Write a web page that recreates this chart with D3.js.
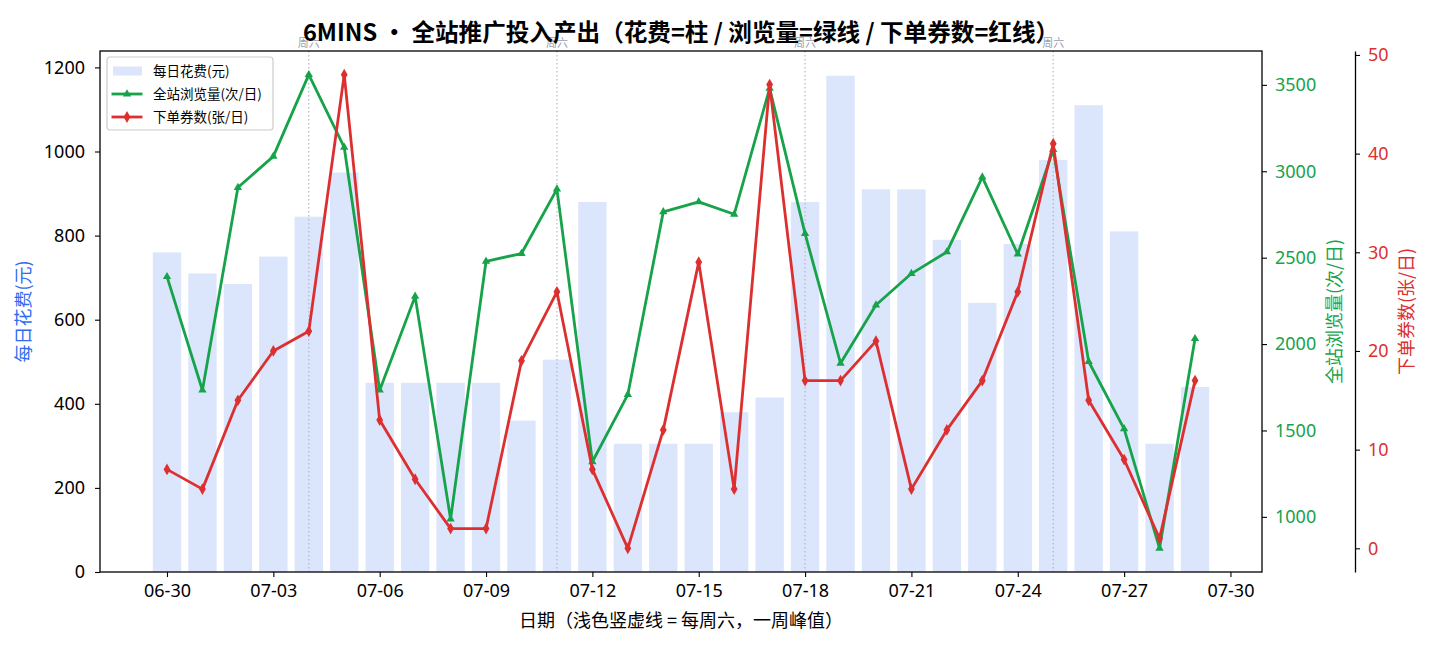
<!DOCTYPE html>
<html>
<head>
<meta charset="utf-8">
<script src="https://cdn.jsdelivr.net/npm/d3@7"></script>
<style>
  body { margin: 0; background: #fff; }
  svg { font-family: "Noto Sans CJK SC", "Noto Sans", sans-serif; }
</style>
</head>
<body>
<svg id="chart" width="1430" height="650"></svg>
<script>
// daily data, 06-30 .. 07-29
const days = ["06-30","07-01","07-02","07-03","07-04","07-05","07-06","07-07","07-08","07-09",
              "07-10","07-11","07-12","07-13","07-14","07-15","07-16","07-17","07-18","07-19",
              "07-20","07-21","07-22","07-23","07-24","07-25","07-26","07-27","07-28","07-29"];
const spend = [760, 710, 685, 750, 845, 950, 450, 450, 450, 450,
               360, 505, 880, 305, 305, 305, 380, 415, 880, 1180,
               910, 910, 790, 640, 780, 980, 1110, 810, 305, 440];
const views = [2390, 1733, 2906, 3086, 3559, 3138, 1733, 2276, 987, 2479,
               2524, 2897, 1319, 1708, 2765, 2823, 2751, 3480, 2639, 1889,
               2226, 2408, 2533, 2966, 2520, 3125, 1899, 1509, 818, 2031];
const orders = [8, 6, 15, 20, 22, 48, 13, 7, 2, 2,
                19, 26, 8, 0, 12, 29, 6, 47, 17, 17,
                21, 6, 12, 17, 26, 41, 15, 9, 1, 17];
const saturdays = ["07-04", "07-11", "07-18", "07-25"];
const xTicks = ["06-30","07-03","07-06","07-09","07-12","07-15","07-18","07-21","07-24","07-27","07-30"];
const spendTicks = [0, 200, 400, 600, 800, 1000, 1200];
const viewTicks = [1000, 1500, 2000, 2500, 3000, 3500];
const orderTicks = [0, 10, 20, 30, 40, 50];

const YEAR = 2020;
const parse = s => new Date(YEAR, +s.slice(0, 2) - 1, +s.slice(3));
const DAY = 864e5;

const colors = { bar: "#dbe5fc", green: "#16a34a", red: "#dc3030", blue: "#2f6bf0", sat: "#b4b8c4" };
const TICK_FONT = 18;

const svg = d3.select("#chart"),
    margin = {top: 51, right: 168, bottom: 78, left: 100},
    width = +svg.attr("width"),
    height = +svg.attr("height");

const data = days.map((d, i) => ({date: parse(d), spend: spend[i], views: views[i], orders: orders[i]}));

// matplotlib-like autoscale: 5% margin around bars (width 0.8 day)
const first = data[0].date.getTime(), last = data[data.length - 1].date.getTime();
const span = (last - first) / DAY + 0.8;
const x = d3.scaleTime()
    .domain([new Date(first - (0.4 + span * 0.05) * DAY), new Date(last + (0.4 + span * 0.05) * DAY)])
    .range([margin.left, width - margin.right]);

const y = d3.scaleLinear()
    .domain([0, d3.max(spend) * 1.05])
    .range([height - margin.bottom, margin.top]);

function padded(arr) {
    const lo = d3.min(arr), hi = d3.max(arr), m = (hi - lo) * 0.05;
    return [lo - m, hi + m];
}
const yView = d3.scaleLinear().domain(padded(views)).range([height - margin.bottom, margin.top]);
const yOrder = d3.scaleLinear().domain(padded(orders)).range([height - margin.bottom, margin.top]);

const barW = x(new Date(first + 0.8 * DAY)) - x(new Date(first));

// bars
svg.append("g")
    .selectAll("rect")
    .data(data)
    .enter().append("rect")
    .attr("x", d => x(d.date) - barW / 2)
    .attr("y", d => y(d.spend))
    .attr("width", barW)
    .attr("height", d => y(0) - y(d.spend))
    .attr("fill", colors.bar);

// saturday markers
const sat = svg.append("g");
saturdays.forEach(s => {
    const sx = x(parse(s));
    sat.append("line")
        .attr("x1", sx).attr("x2", sx)
        .attr("y1", margin.top).attr("y2", height - margin.bottom)
        .attr("stroke", colors.sat).attr("stroke-width", 1.2)
        .attr("stroke-dasharray", "1.5,2.5");
    sat.append("text")
        .attr("x", sx).attr("y", margin.top - 4)
        .attr("text-anchor", "middle")
        .attr("font-size", 11)
        .attr("fill", "#9aa0ae")
        .text("周六");
});

// green line
svg.append("path")
    .datum(data)
    .attr("fill", "none")
    .attr("stroke", colors.green)
    .attr("stroke-width", 2.8)
    .attr("stroke-linejoin", "round")
    .attr("d", d3.line().x(d => x(d.date)).y(d => yView(d.views)));

const tri = d3.symbol().type(d3.symbolTriangle).size(30);
svg.append("g")
    .selectAll("path")
    .data(data)
    .enter().append("path")
    .attr("d", tri)
    .attr("transform", d => `translate(${x(d.date)},${yView(d.views)})`)
    .attr("fill", colors.green);

// red line
svg.append("path")
    .datum(data)
    .attr("fill", "none")
    .attr("stroke", colors.red)
    .attr("stroke-width", 2.8)
    .attr("stroke-linejoin", "round")
    .attr("d", d3.line().x(d => x(d.date)).y(d => yOrder(d.orders)));

const dia = d3.symbol().type(d3.symbolDiamond).size(40);
svg.append("g")
    .selectAll("path")
    .data(data)
    .enter().append("path")
    .attr("d", dia)
    .attr("transform", d => `translate(${x(d.date)},${yOrder(d.orders)})`)
    .attr("fill", colors.red);

// frame
svg.append("rect")
    .attr("x", margin.left).attr("y", margin.top)
    .attr("width", width - margin.right - margin.left)
    .attr("height", height - margin.bottom - margin.top)
    .attr("fill", "none").attr("stroke", "#000").attr("stroke-width", 1.3);

function styleAxis(g, color) {
    g.select(".domain").remove();
    g.selectAll(".tick line").attr("stroke", "#000").attr("stroke-width", 1.1);
    g.selectAll(".tick text").attr("fill", color).attr("font-size", TICK_FONT)
        .attr("font-family", "'Noto Sans', sans-serif");
}

// x axis
const gx = svg.append("g")
    .attr("transform", `translate(0,${height - margin.bottom})`)
    .call(d3.axisBottom(x).tickValues(xTicks.map(parse)).tickFormat(d3.timeFormat("%m-%d"))
        .tickSizeOuter(0).tickSize(5).tickPadding(7));
styleAxis(gx, "#000");

// left axis
const gy = svg.append("g")
    .attr("transform", `translate(${margin.left},0)`)
    .call(d3.axisLeft(y).tickValues(spendTicks).tickFormat(d3.format("d")).tickSize(5).tickPadding(10));
styleAxis(gy, "#000");

// green axis
const gv = svg.append("g")
    .attr("transform", `translate(${width - margin.right},0)`)
    .call(d3.axisRight(yView).tickValues(viewTicks).tickFormat(d3.format("d")).tickSize(5).tickPadding(8));
styleAxis(gv, colors.green);

// red axis, offset spine
const redX = width - margin.right + 93;
const gr = svg.append("g")
    .attr("transform", `translate(${redX},0)`)
    .call(d3.axisRight(yOrder).tickValues(orderTicks).tickFormat(d3.format("d"))
        .tickSize(5).tickPadding(8).tickSizeOuter(0));
gr.select(".domain").attr("stroke", "#000").attr("stroke-width", 1.3);
gr.selectAll(".tick line").attr("stroke", "#000").attr("stroke-width", 1.1);
gr.selectAll(".tick text").attr("fill", colors.red).attr("font-size", TICK_FONT)
    .attr("font-family", "'Noto Sans', sans-serif");

// axis labels
const midY = (margin.top + height - margin.bottom) / 2;
svg.append("text")
    .attr("transform", `translate(24,${midY}) rotate(-90)`)
    .attr("text-anchor", "middle").attr("dy", "0.35em").attr("font-size", 18).attr("fill", colors.blue)
    .text("每日花费(元)");
svg.append("text")
    .attr("transform", `translate(1335,${midY}) rotate(-90)`)
    .attr("text-anchor", "middle").attr("dy", "0.35em").attr("font-size", 18).attr("fill", colors.green)
    .text("全站浏览量(次/日)");
svg.append("text")
    .attr("transform", `translate(1407,${midY}) rotate(-90)`)
    .attr("text-anchor", "middle").attr("dy", "0.35em").attr("font-size", 18).attr("fill", colors.red)
    .text("下单券数(张/日)");
svg.append("text")
    .attr("x", (margin.left + width - margin.right) / 2).attr("y", 621)
    .attr("text-anchor", "middle").attr("dy", "0.35em").attr("font-size", 18).attr("fill", "#000")
    .text("日期（浅色竖虚线 = 每周六，一周峰值）");

// title
svg.append("text")
    .attr("x", (margin.left + width - margin.right) / 2).attr("y", 41)
    .attr("text-anchor", "middle").attr("font-size", 23.6).attr("font-weight", "bold")
    .text("6MINS · 全站推广投入产出（花费=柱 / 浏览量=绿线 / 下单券数=红线）");

// legend
const lg = svg.append("g").attr("transform", "translate(107,57)");
lg.append("rect").attr("width", 166).attr("height", 73).attr("rx", 3)
    .attr("fill", "#fff").attr("fill-opacity", 0.85).attr("stroke", "#cccccc").attr("stroke-width", 1.2);
lg.append("rect").attr("x", 6).attr("y", 9.5).attr("width", 29).attr("height", 9).attr("fill", colors.bar);
lg.append("line").attr("x1", 4.5).attr("x2", 35.5).attr("y1", 37).attr("y2", 37)
    .attr("stroke", colors.green).attr("stroke-width", 2.8);
lg.append("path").attr("d", tri).attr("transform", "translate(20,37)").attr("fill", colors.green);
lg.append("line").attr("x1", 4.5).attr("x2", 35.5).attr("y1", 60).attr("y2", 60)
    .attr("stroke", colors.red).attr("stroke-width", 2.8);
lg.append("path").attr("d", dia).attr("transform", "translate(20,60)").attr("fill", colors.red);
[["每日花费(元)", 14], ["全站浏览量(次/日)", 37], ["下单券数(张/日)", 60]].forEach(([t, ty]) => {
    lg.append("text").attr("x", 46).attr("y", ty).attr("dy", "0.35em")
        .attr("font-size", 13.5).attr("fill", "#000").text(t);
});
</script>
</body>
</html>
